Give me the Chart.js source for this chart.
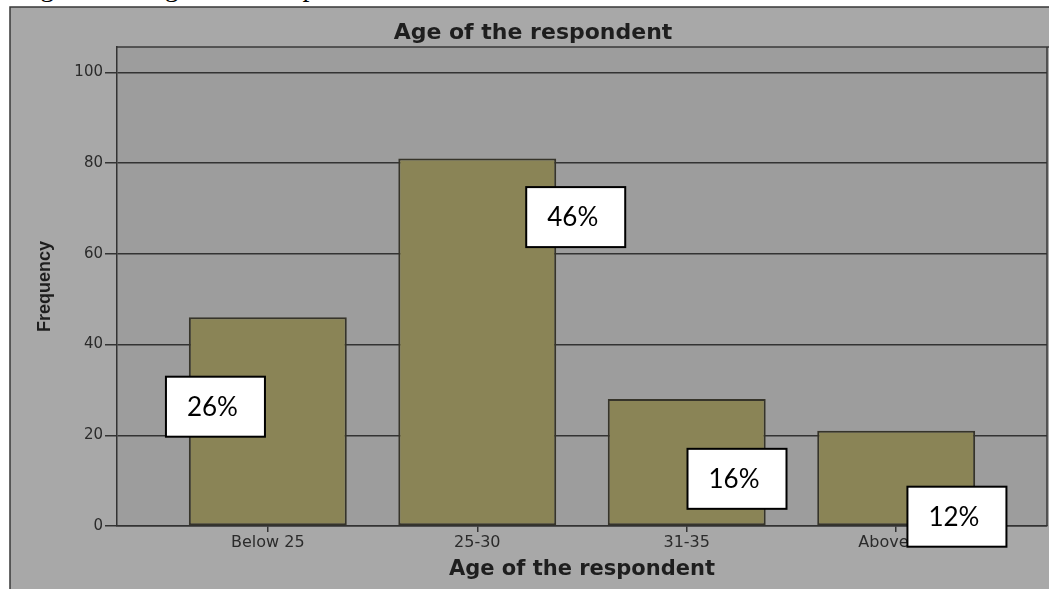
<!DOCTYPE html>
<html>
<head>
<meta charset="utf-8">
<title>Age of the respondent</title>
<script src="https://cdn.jsdelivr.net/npm/chart.js@4.4.1/dist/chart.umd.min.js"></script>
<style>
  html, body { margin: 0; padding: 0; background: #fff; overflow: hidden; }
  #caption { position: absolute; left: 17px; top: -27px; font: 28px/28px "Liberation Serif", serif; color: #000; white-space: nowrap; z-index: 0; }
  #wrap { position: absolute; left: 0; top: 0; width: 1049px; height: 589px; z-index: 1; }
</style>
</head>
<body>
<div id="caption">Figure 4.1, Age of the respondents</div>
<div id="wrap"><canvas id="ageChart" width="1049" height="589"></canvas></div>
<script>
const ageGroups = ['Below 25', '25-30', '31-35', 'Above 35']
const frequency = [46, 81, 28, 21]
const yTicks = [0, 20, 40, 60, 80, 100]

const total = frequency.reduce((a, b) => a + b, 0)
const percentLabels = frequency.map(f => Math.round(f / total * 100) + '%')

// where each percent box sits: shift from the bar centre (categories) and height (frequency units)
const boxShift = [-0.25, 0.47, 0.24, 0.29]
const boxLevel = [26.3, 68.1, 10.4, 2.05]

// grey SPSS style frame, plot background and chart title
const frame = {
    id: 'frame',
    beforeDraw(chart) {
        const { ctx, chartArea: a, width, height } = chart
        ctx.save()
        ctx.fillStyle = '#a8a8a8'
        ctx.fillRect(10, 7, width - 10, height - 7)
        ctx.fillStyle = '#9d9d9d'
        ctx.fillRect(a.left, a.top, a.right - a.left, a.bottom - a.top)
        ctx.strokeStyle = '#383838'
        ctx.lineWidth = 1.5
        ctx.beginPath()
        ctx.moveTo(10, height)
        ctx.lineTo(10, 7)
        ctx.lineTo(width, 7)
        ctx.moveTo(a.left, a.top)
        ctx.lineTo(width, a.top)
        ctx.moveTo(a.right, a.top)
        ctx.lineTo(a.right, a.bottom)
        ctx.stroke()
        ctx.fillStyle = '#1e1e1e'
        ctx.font = 'bold 22px "DejaVu Sans"'
        ctx.textAlign = 'center'
        ctx.textBaseline = 'middle'
        ctx.fillText('Age of the respondent', 533, 33)
        ctx.restore()
    }
}

// white boxes with the share of each age group
const percentBoxes = {
    id: 'percentBoxes',
    afterDraw(chart) {
        const { ctx, scales: { x, y } } = chart
        ctx.save()
        ctx.font = '26px Lato'
        ctx.textAlign = 'center'
        ctx.textBaseline = 'middle'
        percentLabels.forEach((txt, i) => {
            const cx = x.getPixelForValue(i + boxShift[i])
            const cy = y.getPixelForValue(boxLevel[i])
            ctx.fillStyle = '#fff'
            ctx.fillRect(cx - 49.5, cy - 30, 99, 60)
            ctx.strokeStyle = '#000'
            ctx.lineWidth = 2
            ctx.strokeRect(cx - 49.5, cy - 30, 99, 60)
            ctx.fillStyle = '#000'
            ctx.fillText(txt, cx - 3, cy + 1)
        })
        ctx.restore()
    }
}

new Chart(document.getElementById('ageChart'), {
    type: 'bar',
    data: {
        datasets: [{
            label: 'Frequency',
            data: frequency.map((f, i) => ({ x: i, y: f })),
            backgroundColor: '#8a8456',
            borderColor: '#36342a',
            borderWidth: 2,
            borderSkipped: false,
            barPercentage: 0.754,
            categoryPercentage: 1
        }]
    },
    options: {
        responsive: false,
        animation: false,
        layout: { padding: { top: 47, right: 2, left: 0, bottom: 0 } },
        plugins: {
            legend: { display: false },
            tooltip: { enabled: false }
        },
        scales: {
            x: {
                type: 'linear',
                offset: false,
                min: -0.72,
                max: 3.72,
                afterBuildTicks: s => { s.ticks = ageGroups.map((_, i) => ({ value: i })) },
                afterFit: s => { s.height = 63 },
                grid: { offset: false, drawOnChartArea: false, color: '#333', tickLength: 6, lineWidth: 1.5 },
                border: { color: '#333', width: 1.5 },
                ticks: {
                    callback: v => ageGroups[v],
                    font: { family: 'DejaVu Sans', size: 16 },
                    color: '#2b2b2b',
                    padding: 1,
                    maxRotation: 0,
                    autoSkip: false
                },
                title: {
                    display: true,
                    text: 'Age of the respondent',
                    font: { family: 'DejaVu Sans', size: 21, weight: 'bold' },
                    color: '#1e1e1e',
                    padding: { top: 0, bottom: 7 }
                }
            },
            y: {
                min: 0,
                max: 105.6,
                afterBuildTicks: s => { s.ticks = yTicks.map(v => ({ value: v })) },
                afterFit: s => { s.width = 117 },
                grid: { color: '#333', lineWidth: 1.5, tickLength: 12 },
                border: { color: '#333', width: 1.5 },
                ticks: {
                    font: { family: 'DejaVu Sans', size: 15 },
                    color: '#2b2b2b',
                    padding: 2
                },
                title: {
                    display: true,
                    text: 'Frequency',
                    font: { family: 'Liberation Sans', size: 18, weight: 'bold' },
                    color: '#1e1e1e',
                    padding: { top: 34, bottom: 0 }
                }
            }
        }
    },
    plugins: [frame, percentBoxes]
})
</script>
</body>
</html>
